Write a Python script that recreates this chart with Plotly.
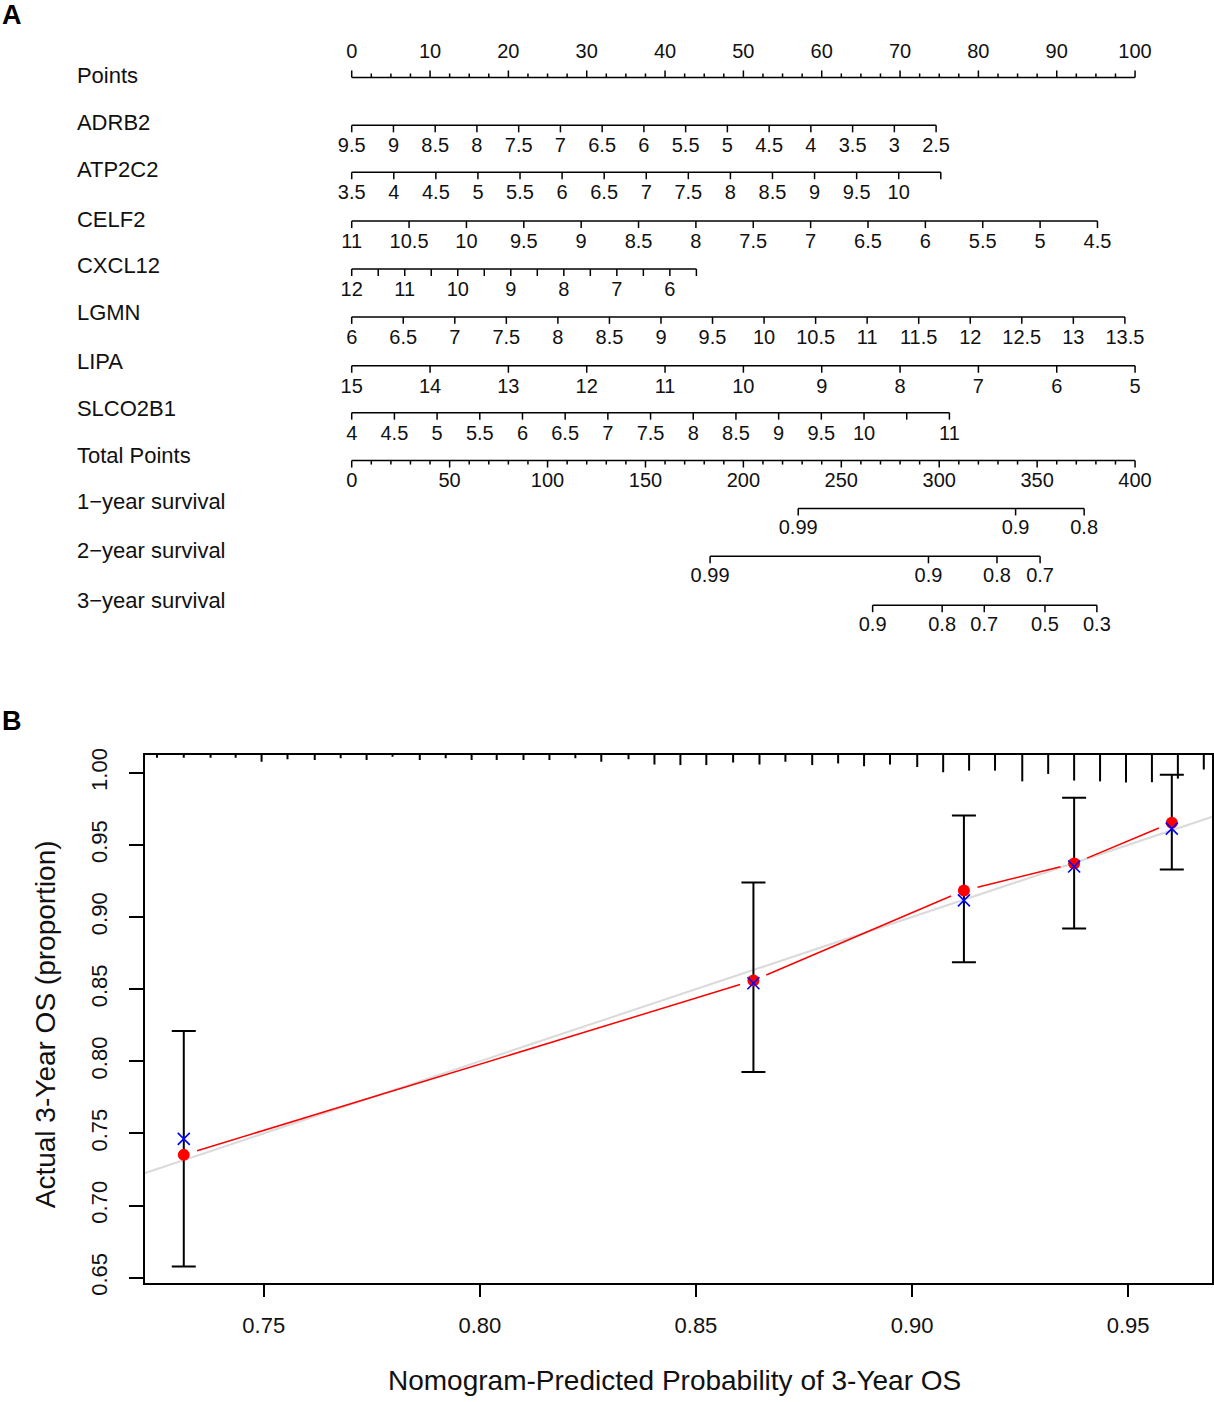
import math
import plotly.graph_objects as go

# ---------------- panel A : nomogram ----------------
points_ticks = [0, 10, 20, 30, 40, 50, 60, 70, 80, 90, 100]

var_names = ["ADRB2", "ATP2C2", "CELF2", "CXCL12", "LGMN", "LIPA", "SLCO2B1"]

adrb2_vals = [9.5, 9, 8.5, 8, 7.5, 7, 6.5, 6, 5.5, 5, 4.5, 4, 3.5, 3, 2.5]
adrb2_labs = ["9.5", "9", "8.5", "8", "7.5", "7", "6.5", "6", "5.5", "5", "4.5", "4", "3.5", "3", "2.5"]
adrb2_max = 74.6

atp2c2_vals = [3.5, 4, 4.5, 5, 5.5, 6, 6.5, 7, 7.5, 8, 8.5, 9, 9.5, 10, 10.5]
atp2c2_labs = ["3.5", "4", "4.5", "5", "5.5", "6", "6.5", "7", "7.5", "8", "8.5", "9", "9.5", "10", ""]
atp2c2_max = 75.2

celf2_vals = [11, 10.5, 10, 9.5, 9, 8.5, 8, 7.5, 7, 6.5, 6, 5.5, 5, 4.5]
celf2_labs = ["11", "10.5", "10", "9.5", "9", "8.5", "8", "7.5", "7", "6.5", "6", "5.5", "5", "4.5"]
celf2_max = 95.2

cxcl12_vals = [12, 11.5, 11, 10.5, 10, 9.5, 9, 8.5, 8, 7.5, 7, 6.5, 6, 5.5]
cxcl12_labs = ["12", "", "11", "", "10", "", "9", "", "8", "", "7", "", "6", ""]
cxcl12_max = 44.0

lgmn_vals = [6, 6.5, 7, 7.5, 8, 8.5, 9, 9.5, 10, 10.5, 11, 11.5, 12, 12.5, 13, 13.5]
lgmn_labs = ["6", "6.5", "7", "7.5", "8", "8.5", "9", "9.5", "10", "10.5", "11", "11.5", "12", "12.5", "13", "13.5"]
lgmn_max = 98.7

lipa_vals = [15, 14, 13, 12, 11, 10, 9, 8, 7, 6, 5]
lipa_labs = ["15", "14", "13", "12", "11", "10", "9", "8", "7", "6", "5"]
lipa_max = 100

slco2b1_vals = [4, 4.5, 5, 5.5, 6, 6.5, 7, 7.5, 8, 8.5, 9, 9.5, 10, 10.5, 11]
slco2b1_labs = ["4", "4.5", "5", "5.5", "6", "6.5", "7", "7.5", "8", "8.5", "9", "9.5", "10", "", "11"]
slco2b1_max = 76.3

total_ticks = [0, 50, 100, 150, 200, 250, 300, 350, 400]

surv_names = ["1\u2212year survival", "2\u2212year survival", "3\u2212year survival"]
surv1_labs = ["0.99", "0.9", "0.8"]
surv1_total = [228, 339, 374]
surv2_labs = ["0.99", "0.9", "0.8", "0.7"]
surv2_total = [183, 294.5, 329.5, 351.5]
surv3_labs = ["0.9", "0.8", "0.7", "0.5", "0.3"]
surv3_total = [266, 301.5, 323, 354, 380.5]

# ---------------- panel B : calibration ----------------
pred = [0.7315, 0.8633, 0.9120, 0.9375, 0.9601]
observed = [0.7351, 0.8560, 0.9184, 0.9371, 0.9654]
corrected = [0.7462, 0.8541, 0.9115, 0.9350, 0.9613]
ci_upper = [0.8209, 0.9239, 0.9703, 0.9827, 0.9986]
ci_lower = [0.6577, 0.7925, 0.8686, 0.8921, 0.9329]

rug_x = [0.7253, 0.7315, 0.7377, 0.7435, 0.7495, 0.7555, 0.7618, 0.7678, 0.7738, 0.7798,
         0.7861, 0.7921, 0.7981, 0.8039, 0.8101, 0.8161, 0.8221, 0.8281, 0.8344, 0.8404,
         0.8464, 0.8524, 0.8586, 0.8647, 0.8707, 0.8769, 0.8829, 0.8889, 0.8949, 0.9012,
         0.9072, 0.9132, 0.9192, 0.9255, 0.9315, 0.9375, 0.9435, 0.9495, 0.9555, 0.9615,
         0.9675]
rug_freq = [0.10, 0.10, 0.10, 0.10, 0.25, 0.16, 0.19, 0.12, 0.19, 0.07,
            0.19, 0.12, 0.19, 0.19, 0.19, 0.19, 0.12, 0.25, 0.16, 0.35,
            0.37, 0.37, 0.28, 0.35, 0.25, 0.37, 0.31, 0.41, 0.35, 0.44,
            0.63, 0.57, 0.57, 0.96, 0.69, 0.93, 0.96, 1.00, 0.99, 0.86,
            0.53]

x_ticks = [0.75, 0.80, 0.85, 0.90, 0.95]
y_ticks = [0.65, 0.70, 0.75, 0.80, 0.85, 0.90, 0.95, 1.00]

# ---------------- layout helpers ----------------
W, H = 1214, 1402
FONT = "Arial, Liberation Sans, sans-serif"
PX0, PX100 = 352, 1136          # page pixel of 0 and 100 points
ppu = (PX100 - PX0) / 100.0
def px2pts(px):
    return (px - PX0) / ppu

# the rendered page comes out slightly squeezed vertically; undo it
def fy(py):
    return (py - 2.4) / 0.988

row_line = [73, 121, 168, 217, 265, 313, 362, 409, 457, 505, 553, 602]
row_name = [75, 122, 169, 219, 265, 313, 362, 409, 456, 502, 551, 601]
LAB_OFF = 24
TXT_DY = -2      # text renders a little below its anchor
MAJ, MIN = 7, 4

seg_x, seg_y = [], []
def seg(x0, y0, x1, y1):
    seg_x.extend([x0, x1, None])
    seg_y.extend([fy(y0), fy(y1), None])

lab_x, lab_y, lab_t = [], [], []
def lab(x, y, t):
    if t:
        lab_x.append(x); lab_y.append(fy(y) + TXT_DY); lab_t.append(t)

# points axis (ticks up, labels above)
y0 = row_line[0]
seg(0, y0, 100, y0)
for v in points_ticks:
    seg(v, y0, v, y0 - MAJ)
    lab(v, y0 - 23, str(v))
for i in range(41):
    m = i * 2.5
    if m % 10:
        seg(m, y0, m, y0 - MIN)

# predictor axes
var_data = [(adrb2_vals, adrb2_labs, adrb2_max), (atp2c2_vals, atp2c2_labs, atp2c2_max),
            (celf2_vals, celf2_labs, celf2_max), (cxcl12_vals, cxcl12_labs, cxcl12_max),
            (lgmn_vals, lgmn_labs, lgmn_max), (lipa_vals, lipa_labs, lipa_max),
            (slco2b1_vals, slco2b1_labs, slco2b1_max)]
for k, (vals, labs, pmax) in enumerate(var_data):
    y = row_line[k + 1]
    seg(0, y, pmax, y)
    for v, t in zip(vals, labs):
        p = pmax * (v - vals[0]) / (vals[-1] - vals[0])
        seg(p, y, p, y + MAJ)
        lab(p, y + LAB_OFF, t)

# total points axis
y = row_line[8]
seg(0, y, 100, y)
for v in total_ticks:
    seg(v / 4, y, v / 4, y + MAJ)
    lab(v / 4, y + 23, str(v))
for i in range(41):
    m = i * 10
    if m % 50:
        seg(m / 4, y, m / 4, y + MIN)

# survival axes
for k, (labs, tots) in enumerate([(surv1_labs, surv1_total), (surv2_labs, surv2_total),
                                  (surv3_labs, surv3_total)]):
    y = row_line[9 + k]
    seg(tots[0] / 4, y, tots[-1] / 4, y)
    for t, v in zip(labs, tots):
        seg(v / 4, y, v / 4, y + MAJ)
        lab(v / 4, y + 23, t)

names = ["Points"] + var_names + ["Total Points"] + surv_names

fig = go.Figure()
fig.add_trace(go.Scatter(x=seg_x, y=seg_y, mode="lines", line=dict(color="black", width=1.5),
                         hoverinfo="skip", showlegend=False))
fig.add_trace(go.Scatter(x=lab_x, y=lab_y, text=lab_t, mode="text", textposition="middle center",
                         textfont=dict(family=FONT, size=20, color="#111"), showlegend=False))
fig.add_trace(go.Scatter(x=[px2pts(77)] * len(names), y=[fy(v) + TXT_DY for v in row_name],
                         text=names, mode="text", textposition="middle right",
                         textfont=dict(family=FONT, size=22, color="#111"), showlegend=False))

# ---------------- panel B ----------------
bx = [0.7225, 0.9694]
by = [0.6465, 1.0124]
dom_x = [145 / W, 1213 / W]
dom_y = [1 - fy(1281) / H, 1 - fy(752) / H]
sx = (dom_x[1] - dom_x[0]) * W / (bx[1] - bx[0])
sy = (dom_y[1] - dom_y[0]) * H / (by[1] - by[0])

# ideal line
fig.add_trace(go.Scatter(x=[0.70, 1.0], y=[0.70, 1.0], mode="lines", xaxis="x2", yaxis="y2",
                         line=dict(color="#dadada", width=2), hoverinfo="skip", showlegend=False))

# rug of predicted probabilities along the top
rmax = 28 / sy
rx, ry = [], []
for x, f in zip(rug_x, rug_freq):
    rx.extend([x, x, None])
    ry.extend([by[1], by[1] - f * rmax, None])
fig.add_trace(go.Scatter(x=rx, y=ry, mode="lines", xaxis="x2", yaxis="y2",
                         line=dict(color="black", width=2), hoverinfo="skip", showlegend=False))

# error bars
fig.add_trace(go.Scatter(x=pred, y=observed, mode="markers", xaxis="x2", yaxis="y2",
                         marker=dict(color="rgba(0,0,0,0)", size=2),
                         error_y=dict(type="data", symmetric=False,
                                      array=[u - o for u, o in zip(ci_upper, observed)],
                                      arrayminus=[o - l for o, l in zip(observed, ci_lower)],
                                      color="black", thickness=2, width=12),
                         hoverinfo="skip", showlegend=False))

# red connecting line with gaps around points
lx, ly = [], []
GAP = 14
for i in range(len(pred) - 1):
    xa, ya, xb, yb = pred[i], observed[i], pred[i + 1], observed[i + 1]
    L = math.hypot((xb - xa) * sx, (yb - ya) * sy)
    t = GAP / L
    lx.extend([xa + t * (xb - xa), xb - t * (xb - xa), None])
    ly.extend([ya + t * (yb - ya), yb - t * (yb - ya), None])
fig.add_trace(go.Scatter(x=lx, y=ly, mode="lines", xaxis="x2", yaxis="y2",
                         line=dict(color="red", width=1.5), hoverinfo="skip", showlegend=False))

fig.add_trace(go.Scatter(x=pred, y=observed, mode="markers", xaxis="x2", yaxis="y2",
                         marker=dict(color="red", size=12), showlegend=False))
fig.add_trace(go.Scatter(x=pred, y=corrected, mode="markers", xaxis="x2", yaxis="y2",
                         marker=dict(symbol="x-thin", size=12, line=dict(color="blue", width=1.6)),
                         showlegend=False))

fig.update_layout(
    width=W, height=H,
    margin=dict(l=0, r=0, t=0, b=0),
    paper_bgcolor="white", plot_bgcolor="rgba(0,0,0,0)",
    showlegend=False,
    xaxis=dict(domain=[0, 1], range=[px2pts(0), px2pts(W)], visible=False, anchor="y"),
    yaxis=dict(domain=[0, 1], range=[H, 0], visible=False, anchor="x"),
    xaxis2=dict(domain=dom_x, range=bx, anchor="y2", showline=True, mirror=True,
                linecolor="black", linewidth=1.5, showgrid=False, zeroline=False,
                ticks="outside", ticklen=13, tickwidth=1.5, tickcolor="black",
                tickvals=x_ticks, ticktext=["%.2f" % v for v in x_ticks],
                tickfont=dict(family=FONT, size=22, color="#111"), ticklabelstandoff=9),
    yaxis2=dict(domain=dom_y, range=by, anchor="x2", showline=True, mirror=True,
                linecolor="black", linewidth=1.5, showgrid=False, zeroline=False,
                ticks="outside", ticklen=14, tickwidth=1.5, tickcolor="black",
                tickvals=y_ticks, ticktext=["%.2f" % v for v in y_ticks], tickangle=-90,
                tickfont=dict(family=FONT, size=22, color="#111"), ticklabelstandoff=13),
    annotations=[
        dict(text="<b>A</b>", x=0, y=1 + 9 / H, xref="paper", yref="paper",
             xanchor="left", yanchor="top", showarrow=False,
             font=dict(family=FONT, size=27, color="black")),
        dict(text="<b>B</b>", x=0, y=1 - 707 / H, xref="paper", yref="paper",
             xanchor="left", yanchor="top", showarrow=False,
             font=dict(family=FONT, size=27, color="black")),
        dict(text="Actual 3-Year OS (proportion)", x=45 / W, y=1 - fy(1022) / H,
             xref="paper", yref="paper", textangle=-90, showarrow=False,
             xanchor="center", yanchor="middle",
             font=dict(family=FONT, size=28, color="#111")),
        dict(text="Nomogram-Predicted Probability of 3-Year OS", x=675 / W, y=1 - 1393 / H,
             xref="paper", yref="paper", showarrow=False,
             xanchor="center", yanchor="middle",
             font=dict(family=FONT, size=28, color="#111")),
    ],
)

# put the figure at the page origin with nothing else taking up height
page_js = (
    "document.documentElement.style.overflow='hidden';"
    "document.body.style.margin='0';document.body.style.overflow='hidden';"
    "var d=document.querySelector('.plotly-graph-div');"
    "d.parentElement.style.fontSize='0';d.parentElement.style.lineHeight='0';"
)
fig.write_html("out.html", config={"displayModeBar": False}, post_script=page_js)
